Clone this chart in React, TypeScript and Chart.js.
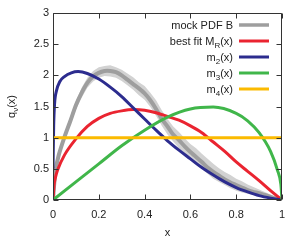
import { useEffect, useRef } from 'react';
import { Chart, registerables } from 'chart.js';
Chart.register(...registerables);

const FONT = '"Liberation Sans", Arial, Helvetica, sans-serif';

// mock PDF B (gray line + band)
const pdfX = [0, 0.01, 0.025, 0.05, 0.075, 0.1, 0.125, 0.15, 0.175, 0.2, 0.225, 0.25, 0.275, 0.3, 0.325, 0.35, 0.375, 0.4, 0.425, 0.45, 0.475, 0.5, 0.525, 0.55, 0.575, 0.6, 0.625, 0.65, 0.675, 0.7, 0.725, 0.75, 0.775, 0.8, 0.825, 0.85, 0.875, 0.9, 0.925, 0.95, 0.975, 1];
const pdfY = [0, 0.45, 0.72, 1.01, 1.26, 1.52, 1.72, 1.88, 1.98, 2.04, 2.07, 2.07, 2.05, 2.0, 1.93, 1.86, 1.79, 1.71, 1.6, 1.46, 1.3, 1.18, 1.05, 0.96, 0.86, 0.77, 0.69, 0.61, 0.52, 0.45, 0.39, 0.33, 0.28, 0.24, 0.2, 0.16, 0.13, 0.11, 0.08, 0.05, 0.02, 0];
const pdfHi = [0.03, 0.5, 0.78, 1.07, 1.33, 1.59, 1.8, 1.96, 2.07, 2.13, 2.15, 2.16, 2.13, 2.09, 2.03, 1.97, 1.89, 1.83, 1.72, 1.6, 1.44, 1.3, 1.18, 1.09, 0.99, 0.9, 0.83, 0.74, 0.66, 0.58, 0.51, 0.45, 0.4, 0.34, 0.3, 0.25, 0.21, 0.17, 0.13, 0.09, 0.05, 0.01];
const pdfLo = [0, 0.4, 0.66, 0.95, 1.19, 1.45, 1.64, 1.8, 1.9, 1.96, 1.99, 1.98, 1.96, 1.91, 1.84, 1.77, 1.68, 1.61, 1.49, 1.35, 1.19, 1.05, 0.94, 0.83, 0.75, 0.65, 0.57, 0.5, 0.42, 0.34, 0.29, 0.24, 0.19, 0.15, 0.12, 0.1, 0.08, 0.06, 0.04, 0.02, 0.01, 0];

// best fit M_R(x)
const redX = [0, 0.005, 0.01, 0.02, 0.05, 0.1, 0.15, 0.2, 0.25, 0.3, 0.35, 0.4, 0.45, 0.5, 0.55, 0.6, 0.65, 0.7, 0.75, 0.8, 0.85, 0.9, 0.95, 1];
const redY = [0, 0.25, 0.35, 0.48, 0.72, 0.98, 1.18, 1.31, 1.39, 1.43, 1.45, 1.44, 1.4, 1.34, 1.28, 1.19, 1.08, 0.93, 0.78, 0.61, 0.46, 0.31, 0.15, 0];

// m2(x)
const blueX = [0, 0.003, 0.007, 0.015, 0.03, 0.05, 0.08, 0.11, 0.15, 0.2, 0.25, 0.3, 0.35, 0.4, 0.45, 0.5, 0.55, 0.6, 0.65, 0.7, 0.75, 0.8, 0.85, 0.9, 0.95, 1];
const blueY = [0.5, 1.2, 1.55, 1.75, 1.9, 1.98, 2.04, 2.06, 2.03, 1.94, 1.81, 1.66, 1.48, 1.3, 1.12, 0.95, 0.8, 0.66, 0.52, 0.4, 0.29, 0.2, 0.13, 0.07, 0.03, 0];

// m3(x)
const greenX = [0, 0.1, 0.2, 0.3, 0.4, 0.5, 0.6, 0.7, 0.8, 0.85, 0.9, 0.95, 0.98, 0.995, 1];
const greenY = [0, 0.29, 0.58, 0.87, 1.12, 1.33, 1.46, 1.49, 1.39, 1.27, 1.08, 0.78, 0.48, 0.25, 0];

// m4(x)
const yellowX = [0, 1];
const yellowY = [1, 1];

const COLORS = {
  gray: '#9e9e9e',
  band: '#d2d2d2',
  red: '#ea2430',
  blue: '#2c2c8e',
  green: '#40b64a',
  yellow: '#fbba00',
};

const legendItems: { main: string; sub?: string; tail?: string; color: string; width: number }[] = [
  { main: 'mock PDF B', color: COLORS.gray, width: 3.5 },
  { main: 'best fit M', sub: 'R', tail: '(x)', color: COLORS.red, width: 3 },
  { main: 'm', sub: '2', tail: '(x)', color: COLORS.blue, width: 3 },
  { main: 'm', sub: '3', tail: '(x)', color: COLORS.green, width: 3 },
  { main: 'm', sub: '4', tail: '(x)', color: COLORS.yellow, width: 3 },
];

const pts = (xs: number[], ys: number[]) => xs.map((x, i) => ({ x, y: ys[i] }));
const fmt = (v: any) => String(Number(Number(v).toFixed(2)));

function drawRich(ctx: CanvasRenderingContext2D, parts: { t: string; sub?: boolean }[], x: number, y: number, align: 'left' | 'right' | 'center') {
  const big = `11px ${FONT}`;
  const small = `8px ${FONT}`;
  let total = 0;
  const widths = parts.map((p) => {
    ctx.font = p.sub ? small : big;
    const w = ctx.measureText(p.t).width;
    total += w;
    return w;
  });
  let cx = align === 'right' ? x - total : align === 'center' ? x - total / 2 : x;
  ctx.textAlign = 'left';
  ctx.textBaseline = 'alphabetic';
  parts.forEach((p, i) => {
    ctx.font = p.sub ? small : big;
    ctx.fillText(p.t, cx, p.sub ? y + 3 : y);
    cx += widths[i];
  });
}

const decorPlugin = {
  id: 'decor',
  afterDraw(chart: any) {
    const { ctx, chartArea: a, scales } = chart;
    const L = Math.round(a.left) + 0.5;
    const R = Math.round(a.right) - 0.5;
    const T = Math.round(a.top) + 0.5;
    const B = Math.round(a.bottom) - 0.5;
    ctx.save();
    ctx.strokeStyle = '#333333';
    ctx.lineWidth = 1;
    ctx.beginPath();
    ctx.rect(L, T, R - L, B - T);
    const tl = 5;
    scales.x.ticks.forEach((t: any) => {
      const px = Math.round(scales.x.getPixelForValue(t.value)) + 0.5;
      ctx.moveTo(px, B);
      ctx.lineTo(px, B - tl);
      ctx.moveTo(px, T);
      ctx.lineTo(px, T + tl);
    });
    scales.y.ticks.forEach((t: any) => {
      const py = Math.round(scales.y.getPixelForValue(t.value)) + 0.5;
      ctx.moveTo(L, py);
      ctx.lineTo(L + tl, py);
      ctx.moveTo(R, py);
      ctx.lineTo(R - tl, py);
    });
    ctx.stroke();

    // legend
    ctx.fillStyle = '#222222';
    legendItems.forEach((it, i) => {
      const y = 25 + i * 16;
      const parts: { t: string; sub?: boolean }[] = [{ t: it.main }];
      if (it.sub) parts.push({ t: it.sub, sub: true });
      if (it.tail) parts.push({ t: it.tail });
      drawRich(ctx, parts, 233, y + 4, 'right');
      ctx.strokeStyle = it.color;
      ctx.lineWidth = it.width;
      ctx.beginPath();
      ctx.moveTo(239, y);
      ctx.lineTo(269, y);
      ctx.stroke();
    });

    // axis titles
    ctx.fillStyle = '#222222';
    drawRich(ctx, [{ t: 'x' }], (a.left + a.right) / 2, 236, 'center');
    ctx.translate(15, (a.top + a.bottom) / 2);
    ctx.rotate(-Math.PI / 2);
    drawRich(ctx, [{ t: 'q' }, { t: 'ν', sub: true }, { t: '(x)' }], 0, 0, 'center');
    ctx.restore();
  },
};

export default function App() {
  const ref = useRef<HTMLCanvasElement | null>(null);
  useEffect(() => {
    if (!ref.current) return;
    const line = (data: any, color: string, width: number, order: number, extra: any = {}) => ({
      data,
      borderColor: color,
      backgroundColor: color,
      borderWidth: width,
      pointRadius: 0,
      fill: false,
      cubicInterpolationMode: 'monotone',
      order,
      ...extra,
    });
    const chart = new Chart(ref.current, {
      type: 'line',
      data: {
        datasets: [
          line(pts(pdfX, pdfHi), 'rgba(0,0,0,0)', 0, 6, { fill: '+1', backgroundColor: COLORS.band, cubicInterpolationMode: 'default', tension: 0 }),
          line(pts(pdfX, pdfLo), 'rgba(0,0,0,0)', 0, 7, { cubicInterpolationMode: 'default', tension: 0 }),
          line(pts(pdfX, pdfY), COLORS.gray, 4, 5, { cubicInterpolationMode: 'default', tension: 0.2 }),
          line(pts(redX, redY), COLORS.red, 3, 4),
          line(pts(blueX, blueY), COLORS.blue, 3, 3),
          line(pts(greenX, greenY), COLORS.green, 3, 2),
          line(pts(yellowX, yellowY), COLORS.yellow, 3, 1),
        ] as any,
      },
      options: {
        responsive: false,
        animation: false,
        parsing: true,
        layout: { padding: { top: 13, right: 18, left: 0, bottom: 0 } },
        plugins: { legend: { display: false }, tooltip: { enabled: false } },
        scales: {
          x: {
            type: 'linear',
            min: 0,
            max: 1,
            grid: { display: false, drawTicks: false },
            border: { display: false },
            ticks: { stepSize: 0.2, padding: 8, color: '#222', font: { family: FONT, size: 11 }, callback: fmt },
            afterFit: (s: any) => { s.height = 40; },
          },
          y: {
            type: 'linear',
            min: 0,
            max: 3,
            grid: { display: false, drawTicks: false },
            border: { display: false },
            ticks: { stepSize: 0.5, padding: 4, color: '#222', font: { family: FONT, size: 11 }, callback: fmt },
            afterFit: (s: any) => { s.width = 53; },
          },
        },
      },
      plugins: [decorPlugin],
    });
    return () => chart.destroy();
  }, []);
  return (
    <div style={{ position: 'fixed', left: 0, top: 0, width: 300, height: 240, background: '#fff' }}>
      <canvas ref={ref} width={300} height={240} style={{ display: 'block', width: 300, height: 240 }} />
    </div>
  );
}
